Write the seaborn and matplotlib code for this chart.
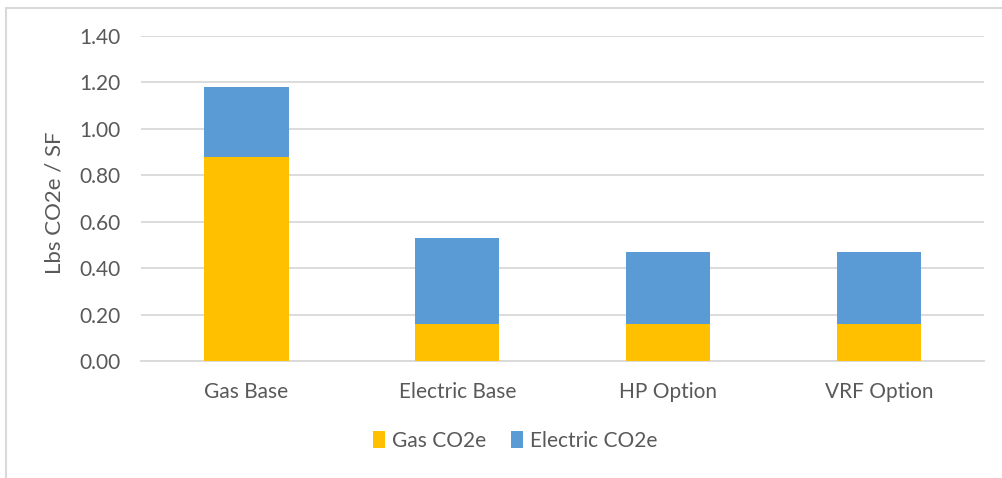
import matplotlib
matplotlib.use("Agg")
import matplotlib.pyplot as plt
from matplotlib.lines import Line2D
from matplotlib.patches import Patch
import seaborn as sns
import pandas as pd

# Emissions per square foot, by design option
categories = ["Gas Base", "Electric Base", "HP Option", "VRF Option"]
gas_co2e = [0.88, 0.16, 0.16, 0.16]
electric_co2e = [0.30, 0.37, 0.31, 0.31]
y_ticks = [0.0, 0.2, 0.4, 0.6, 0.8, 1.0, 1.2, 1.4]

GAS_COLOR = "#FFC000"
ELEC_COLOR = "#5B9BD5"
TEXT_COLOR = "#595959"
GRID_COLOR = "#D9D9D9"

sns.set_theme(style="white")
plt.rcParams["font.family"] = ["Lato", "DejaVu Sans"]

df = pd.DataFrame({
    "option": categories,
    "gas": gas_co2e,
    "electric": electric_co2e,
})
df["total"] = df["gas"] + df["electric"]

W, H = 1003, 478
fig = plt.figure(figsize=(W / 100, H / 100), dpi=100)
ax = fig.add_axes([141 / W, 1 - 361 / H, (984.5 - 141) / W, (361 - 36) / H])

# Stacked bars: full total in blue, gas portion drawn over it in yellow
sns.barplot(data=df, x="option", y="total", color=ELEC_COLOR, width=0.4,
            saturation=1, linewidth=0, ax=ax, zorder=2)
sns.barplot(data=df, x="option", y="gas", color=GAS_COLOR, width=0.4,
            saturation=1, linewidth=0, ax=ax, zorder=3)

ax.set_ylim(0, 1.4)
ax.set_xlim(-0.5, len(categories) - 0.5)
ax.set_yticks(y_ticks)
ax.set_yticklabels([f"{v:.2f}" for v in y_ticks])
ax.set_xlabel("")
ax.set_ylabel("")

ax.grid(axis="y", color=GRID_COLOR, linewidth=1.3, zorder=0)
ax.set_axisbelow(True)
for side in ["top", "right", "left"]:
    ax.spines[side].set_visible(False)
ax.spines["bottom"].set_color(GRID_COLOR)
ax.spines["bottom"].set_linewidth(1.3)

ax.tick_params(axis="both", length=0, labelsize=15, labelcolor=TEXT_COLOR)
ax.tick_params(axis="x", pad=15)
ax.tick_params(axis="y", pad=15)

fig.text(55 / W, 1 - 203 / H, "Lbs CO2e / SF", rotation=90, ha="center",
         va="center", fontsize=16, color=TEXT_COLOR)

handles = [Patch(facecolor=GAS_COLOR, edgecolor="none", label="Gas CO2e"),
           Patch(facecolor=ELEC_COLOR, edgecolor="none", label="Electric CO2e")]
fig.legend(handles=handles, loc="center", bbox_to_anchor=(515 / W, 1 - 441 / H),
           ncol=2, frameon=False, fontsize=15, labelcolor=TEXT_COLOR,
           handlelength=0.6, handleheight=0.9, handletextpad=0.3,
           columnspacing=1.2)

# Chart frame (top and left edges)
fig.add_artist(Line2D([6.5 / W, 1.0], [1 - 7.5 / H, 1 - 7.5 / H],
                      transform=fig.transFigure, color=GRID_COLOR, linewidth=1.5))
fig.add_artist(Line2D([6.5 / W, 6.5 / W], [0.0, 1 - 7.5 / H],
                      transform=fig.transFigure, color=GRID_COLOR, linewidth=1.5))

fig.savefig("out.png", dpi=100, facecolor="white")
